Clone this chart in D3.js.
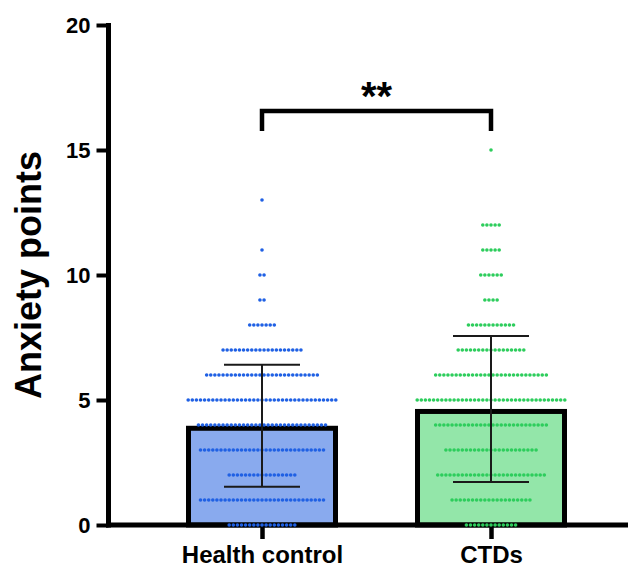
<!DOCTYPE html>
<html>
<head>
<meta charset="utf-8">
<script src="https://cdn.jsdelivr.net/npm/d3@7"></script>
<style>
  html, body { margin: 0; padding: 0; background: #fff; }
  svg { display: block; font-family: "Liberation Sans", Arial, Helvetica, sans-serif; }
</style>
</head>
<body>
<svg id="chart" width="635" height="567"></svg>
<script>
// Anxiety scores (0-15) and how many subjects in each group scored each value
const scores     = [0, 1, 2, 3, 4, 5, 6, 7, 8, 9, 10, 11, 12, 13, 14, 15];
const hcCounts   = [17, 31, 17, 31, 32, 37, 28, 20, 7, 2, 2, 1, 0, 1, 0, 0];
const ctdCounts  = [13, 20, 27, 23, 28, 37, 28, 17, 12, 4, 6, 5, 5, 0, 0, 1];
const categories = ["Health control", "CTDs"];
const yTicks     = [0, 5, 10, 15, 20];
const sigLabel   = "**";

const barFill = ["#89aaee", "#93e6a9"];
const dotFill = ["#1f60e4", "#2dcd5c"];

const groups = [hcCounts, ctdCounts].map((counts, gi) => {
  const values = [];
  scores.forEach((s, i) => { for (let k = 0; k < counts[i]; k++) values.push(s); });
  return {
    name: categories[gi],
    counts,
    values,
    mean: d3.mean(values),
    sd: d3.deviation(values),
    fill: barFill[gi],
    dot: dotFill[gi]
  };
});

const svg = d3.select("#chart");

const y = d3.scaleLinear().domain([0, 20]).range([525, 25]);
const x = d3.scalePoint().domain(categories).range([262, 491]);

const barHalf = 76;     // half-width of each bar
const border = 5;       // bar outline, drawn inside the bar
const dotStep = 4.1;    // horizontal spacing of stacked points
const dotR = 1.8;
const capHalf = 38;     // error-bar cap half-width

// Bars (mean)
const bars = svg.append("g");
groups.forEach(g => {
  const cx = x(g.name);
  bars.append("rect")
    .attr("x", cx - barHalf + border / 2)
    .attr("y", y(g.mean) + border / 2)
    .attr("width", 2 * barHalf - border)
    .attr("height", y(0) - y(g.mean) - border / 2)
    .attr("fill", g.fill)
    .attr("stroke", "#000")
    .attr("stroke-width", border);
});

// Axes
const yAxis = svg.append("g")
  .attr("transform", "translate(108.5,0)")
  .call(d3.axisLeft(y).tickValues(yTicks).tickSize(12).tickSizeOuter(0).tickPadding(6));
yAxis.select(".domain").remove();
yAxis.selectAll(".tick line").attr("stroke", "#000").attr("stroke-width", 4);
yAxis.selectAll(".tick text")
  .attr("fill", "#000").attr("font-size", 22).attr("font-weight", "bold")
  .attr("font-family", "Liberation Sans, Arial, sans-serif");
svg.append("line")
  .attr("x1", 108.5).attr("x2", 108.5)
  .attr("y1", y(20) - 2).attr("y2", y(0) + 2.5)
  .attr("stroke", "#000").attr("stroke-width", 5);

const xAxis = svg.append("g")
  .attr("transform", `translate(0,${y(0)})`)
  .call(d3.axisBottom(x).tickSize(14).tickSizeOuter(0).tickPadding(7));
xAxis.select(".domain").remove();
xAxis.selectAll(".tick line").attr("stroke", "#000").attr("stroke-width", 4.5);
xAxis.selectAll(".tick text")
  .attr("fill", "#000").attr("font-size", 24).attr("font-weight", "bold")
  .attr("font-family", "Liberation Sans, Arial, sans-serif");
svg.append("line")
  .attr("x1", 106).attr("x2", 628)
  .attr("y1", y(0)).attr("y2", y(0))
  .attr("stroke", "#000").attr("stroke-width", 5);

// Individual scores, stacked sideways around each group's centre
const dots = svg.append("g");
groups.forEach(g => {
  const cx = x(g.name);
  scores.forEach((s, i) => {
    const n = g.counts[i];
    for (let k = 0; k < n; k++) {
      dots.append("circle")
        .attr("cx", cx + (k - (n - 1) / 2) * dotStep)
        .attr("cy", y(s))
        .attr("r", dotR)
        .attr("fill", g.dot);
    }
  });
});

// Error bars (mean ± SD)
const err = svg.append("g").attr("stroke", "#1a1a1a").attr("stroke-width", 2);
groups.forEach(g => {
  const cx = x(g.name);
  const lo = y(g.mean - g.sd), hi = y(g.mean + g.sd);
  err.append("line").attr("x1", cx).attr("x2", cx).attr("y1", lo).attr("y2", hi);
  err.append("line").attr("x1", cx - capHalf).attr("x2", cx + capHalf).attr("y1", lo).attr("y2", lo);
  err.append("line").attr("x1", cx - capHalf).attr("x2", cx + capHalf).attr("y1", hi).attr("y2", hi);
});

// Significance bracket
const bx1 = x(categories[0]), bx2 = x(categories[1]);
const bTop = 111, bDrop = 131;
svg.append("path")
  .attr("d", `M${bx1},${bDrop}V${bTop}H${bx2}V${bDrop}`)
  .attr("fill", "none").attr("stroke", "#000").attr("stroke-width", 4.5)
  .attr("stroke-linejoin", "miter");
svg.append("text")
  .attr("x", (bx1 + bx2) / 2).attr("y", 110)
  .attr("text-anchor", "middle")
  .attr("font-size", 40).attr("font-weight", "bold")
  .text(sigLabel);

// Y-axis title
svg.append("text")
  .attr("transform", "translate(41,275) rotate(-90)")
  .attr("text-anchor", "middle")
  .attr("font-size", 36).attr("font-weight", "bold")
  .attr("fill", "#000")
  .text("Anxiety points");
</script>
</body>
</html>
